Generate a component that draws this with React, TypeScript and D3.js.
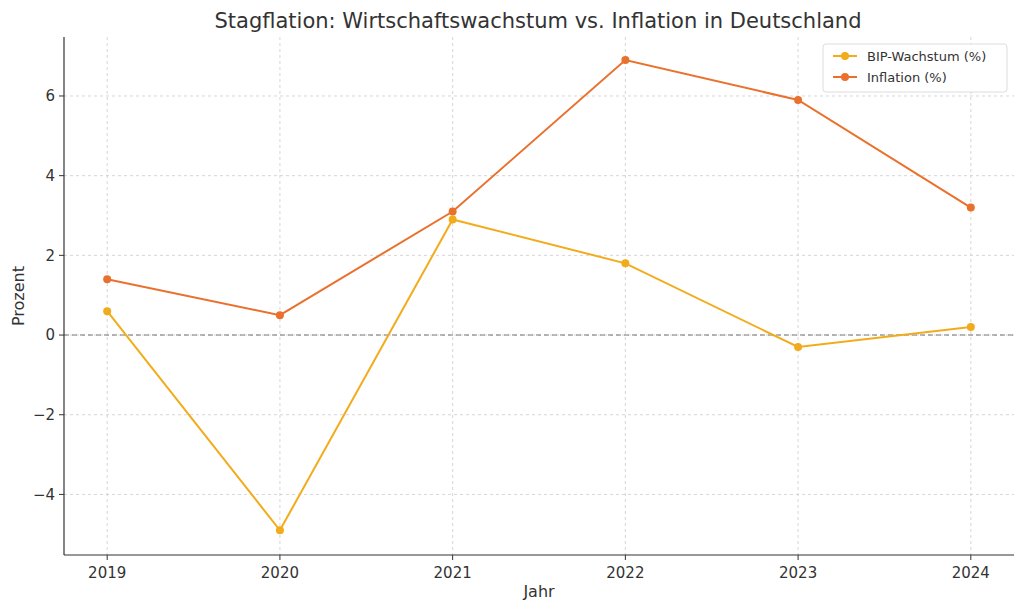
import React from 'react';
import * as d3 from 'd3';

const years = [2019, 2020, 2021, 2022, 2023, 2024];
const bipValues = [0.6, -4.9, 2.9, 1.8, -0.3, 0.2];
const inflationValues = [1.4, 0.5, 3.1, 6.9, 5.9, 3.2];
const yTicks = [-4, -2, 0, 2, 4, 6];
const seriesNames = ['BIP-Wachstum (%)', 'Inflation (%)'];
const seriesColors = ['#f2ac1b', '#e9712d'];

const App = () => {
    const width = 1024;
    const height = 610;
    const margin = { top: 37, right: 10, bottom: 55, left: 64 };
    const innerW = width - margin.left - margin.right;
    const innerH = height - margin.top - margin.bottom;

    const x = d3.scaleLinear().domain([2018.75, 2024.25]).range([0, innerW]);
    const y = d3.scaleLinear().domain([-5.52, 7.48]).range([innerH, 0]);

    const line = d3.line<number>()
        .x((_, i) => x(years[i]))
        .y(d => y(d));

    const allSeries = [bipValues, inflationValues];
    const font = 'DejaVu Sans, sans-serif';

    return (
        <svg width={width} height={height} style={{ position: 'absolute', left: 0, top: 0, fontFamily: font }}>
            <rect width={width} height={height} fill="#fff" />
            <text x={538} y={28} textAnchor="middle" fontSize={21} fill="#333">
                Stagflation: Wirtschaftswachstum vs. Inflation in Deutschland
            </text>
            <g transform={`translate(${margin.left},${margin.top})`}>
                {/* Gitter */}
                {years.map(yr => (
                    <line key={yr} x1={x(yr)} x2={x(yr)} y1={0} y2={innerH} stroke="#ccc" strokeDasharray="3,3" strokeWidth={0.8} />
                ))}
                {yTicks.map(t => (
                    <line key={t} x1={0} x2={innerW} y1={y(t)} y2={y(t)} stroke="#ccc" strokeDasharray="3,3" strokeWidth={0.8} />
                ))}
                <line x1={0} x2={innerW} y1={y(0)} y2={y(0)} stroke="#777" strokeDasharray="5,3" strokeWidth={1.1} />

                {/* Achsen */}
                <line x1={0} x2={0} y1={0} y2={innerH} stroke="#333" strokeWidth={1.2} />
                <line x1={0} x2={innerW} y1={innerH} y2={innerH} stroke="#333" strokeWidth={1.2} />
                {years.map(yr => (
                    <g key={yr} transform={`translate(${x(yr)},${innerH})`}>
                        <line y2={5} stroke="#333" />
                        <text y={23} textAnchor="middle" fontSize={15} fill="#333">{yr}</text>
                    </g>
                ))}
                {yTicks.map(t => (
                    <g key={t} transform={`translate(0,${y(t)})`}>
                        <line x2={-5} stroke="#333" />
                        <text x={-9} dy="0.35em" textAnchor="end" fontSize={15} fill="#333">
                            {t < 0 ? `\u2212${-t}` : t}
                        </text>
                    </g>
                ))}
                <text x={innerW / 2} y={innerH + 42} textAnchor="middle" fontSize={16} fill="#333">Jahr</text>
                <text transform={`translate(-40,${innerH / 2}) rotate(-90)`} textAnchor="middle" fontSize={16} fill="#333">Prozent</text>

                {/* Linien */}
                {allSeries.map((s, si) => (
                    <g key={si}>
                        <path d={line(s) || ''} fill="none" stroke={seriesColors[si]} strokeWidth={2} />
                        {s.map((v, i) => (
                            <circle key={i} cx={x(years[i])} cy={y(v)} r={4} fill={seriesColors[si]} />
                        ))}
                    </g>
                ))}
            </g>

            {/* Legende */}
            <g transform="translate(823,44)">
                <rect width={184} height={48} rx={3} fill="#fff" stroke="#ddd" />
                {seriesNames.map((n, i) => (
                    <g key={n} transform={`translate(10,${12 + i * 21})`}>
                        <line x1={0} x2={24} stroke={seriesColors[i]} strokeWidth={2} />
                        <circle cx={12} r={4} fill={seriesColors[i]} />
                        <text x={34} dy="0.35em" fontSize={13} fill="#333">{n}</text>
                    </g>
                ))}
            </g>
        </svg>
    );
};

export default App;
